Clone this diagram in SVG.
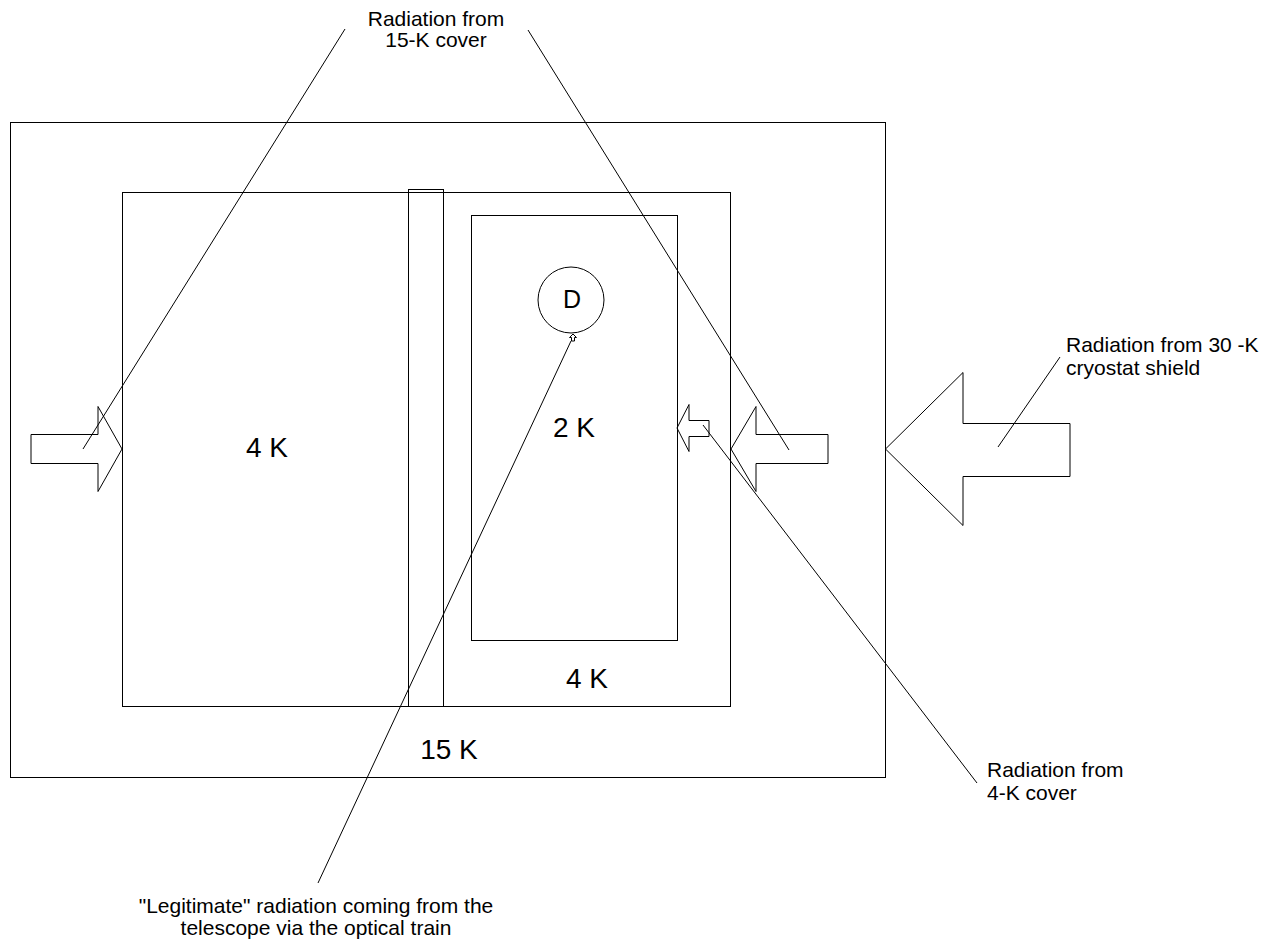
<svg xmlns="http://www.w3.org/2000/svg" width="1282" height="944" viewBox="0 0 1282 944">
  <style>
    .box { fill: none; stroke: #000; stroke-width: 1; }
    .arrow { fill: none; stroke: #000; stroke-width: 1; stroke-linejoin: miter; }
    .lead { fill: none; stroke: #000; stroke-width: 1; }
    .temp { font-family: "Liberation Sans", Arial, sans-serif; font-size: 28px; fill: #000; text-anchor: middle; }
    .note { font-family: "Liberation Sans", Arial, sans-serif; font-size: 21px; fill: #000; }
  </style>
  <rect width="1282" height="944" fill="#fff"/>

  <!-- 15 K outer shield -->
  <g id="shield-15k">
    <rect class="box" x="10.5" y="122.5" width="875" height="655"/>
    <text class="temp" x="449" y="759">15 K</text>
  </g>

  <!-- 4 K enclosure -->
  <g id="enclosure-4k">
    <rect class="box" x="122.5" y="192.5" width="608" height="514"/>
    <text class="temp" x="267" y="457">4 K</text>
    <text class="temp" x="587" y="688">4 K</text>
  </g>

  <!-- optical column -->
  <g id="optical-column">
    <rect class="box" x="408.5" y="189.5" width="35" height="517"/>
  </g>

  <!-- 2 K stage -->
  <g id="stage-2k">
    <rect class="box" x="471.5" y="215.5" width="206" height="425"/>
    <text class="temp" x="574" y="437">2 K</text>
  </g>

  <!-- detector -->
  <g id="detector">
    <circle class="box" cx="571" cy="300" r="33"/>
    <text class="temp" x="572" y="308" style="font-size:25px">D</text>
    <polygon class="arrow" points="573,334 576.5,337.5 574.5,337.5 574.5,341 571.5,341 571.5,337.5 569.5,337.5"/>
  </g>

  <!-- heat-flow arrows -->
  <g id="arrow-15k-left">
    <polygon class="arrow" points="31,434.5 98,434.5 98,406.5 122,449 98,491.5 98,463.5 31,463.5"/>
  </g>
  <g id="arrow-15k-right">
    <polygon class="arrow" points="828,434.5 756,434.5 756,406.5 731,449 756,491.5 756,463.5 828,463.5"/>
  </g>
  <g id="arrow-4k-cover">
    <polygon class="arrow" points="709,420.5 689,420.5 689,404.5 677,428 689,451.5 689,436.5 709,436.5"/>
  </g>
  <g id="arrow-30k">
    <polygon class="arrow" points="1070,423.5 963,423.5 963,372.5 885.5,449 963,525.5 963,476.5 1070,476.5"/>
  </g>

  <!-- labels -->
  <g id="label-15k-cover">
    <text class="note" x="436" y="26" text-anchor="middle">Radiation from</text>
    <text class="note" x="436" y="47" text-anchor="middle">15-K cover</text>
  </g>
  <g id="label-30k-shield">
    <text class="note" x="1066" y="352">Radiation from 30 -K</text>
    <text class="note" x="1066" y="375">cryostat shield</text>
  </g>
  <g id="label-4k-cover">
    <text class="note" x="987" y="777">Radiation from</text>
    <text class="note" x="987" y="800">4-K cover</text>
  </g>
  <g id="label-optical">
    <text class="note" x="316" y="913" text-anchor="middle">"Legitimate" radiation coming from the</text>
    <text class="note" x="316" y="935" text-anchor="middle">telescope via the optical train</text>
  </g>

  <!-- leader lines -->
  <g id="connectors">
    <line class="lead" x1="345" y1="29" x2="83" y2="449"/>
    <line class="lead" x1="528" y1="30" x2="789" y2="450"/>
    <line class="lead" x1="1060" y1="357" x2="998" y2="447"/>
    <line class="lead" x1="977" y1="783" x2="703" y2="425"/>
    <line class="lead" x1="318" y1="883" x2="571" y2="341"/>
  </g>
</svg>
